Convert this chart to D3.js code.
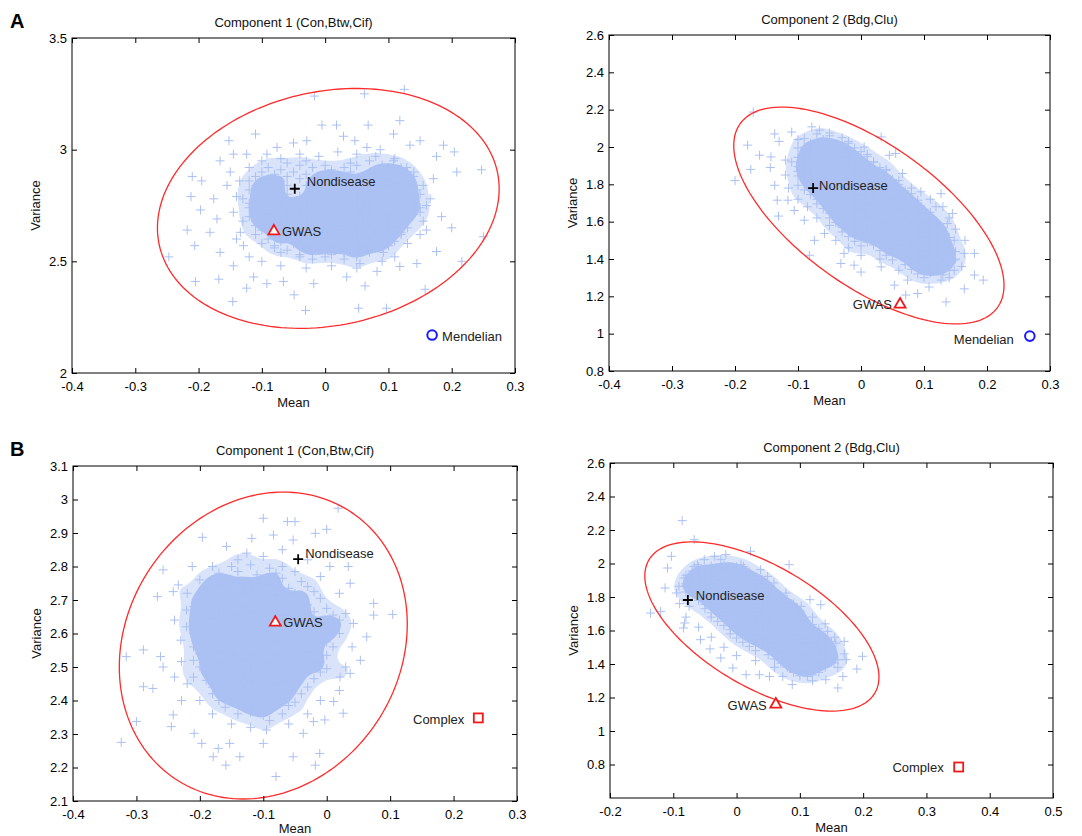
<!DOCTYPE html>
<html>
<head>
<meta charset="utf-8">
<script src="https://cdn.jsdelivr.net/npm/d3@7"></script>
<style>
  body { margin: 0; background: #fff; }
  svg { font-family: "Liberation Sans", Arial, sans-serif; }
</style>
</head>
<body>
<svg id="chart" width="1082" height="836"></svg>
<script>
// axis ticks
const meanTicksA = [-0.4, -0.3, -0.2, -0.1, 0, 0.1, 0.2, 0.3];
const meanTicksB2 = [-0.2, -0.1, 0, 0.1, 0.2, 0.3, 0.4, 0.5];
const varTicksA1 = [2, 2.5, 3, 3.5];
const varTicksA2 = [0.8, 1, 1.2, 1.4, 1.6, 1.8, 2, 2.2, 2.4, 2.6];
const varTicksB1 = [2.1, 2.2, 2.3, 2.4, 2.5, 2.6, 2.7, 2.8, 2.9, 3, 3.1];
const varTicksB2 = [0.8, 1, 1.2, 1.4, 1.6, 1.8, 2, 2.2, 2.4, 2.6];

// named reference points [mean, variance]
const nondiseaseA1 = [-0.048, 2.825], gwasA1 = [-0.081, 2.641], mendelianA1 = [0.169, 2.17];
const nondiseaseA2 = [-0.076, 1.78], gwasA2 = [0.062, 1.164], mendelianA2 = [0.268, 0.987];
const nondiseaseB1 = [-0.045, 2.822], gwasB1 = [-0.081, 2.637], complexB1 = [0.239, 2.348];
const nondiseaseB2 = [-0.077, 1.782], gwasB2 = [0.062, 1.167], complexB2 = [0.351, 0.785];

// 95% ellipses: [centre mean, centre variance, half-width, half-height, tilt]
const ellipseA1 = [0.005, 2.737, 0.27, 0.537, 0.164];
const ellipseA2 = [0.0125, 1.633, 0.2145, 0.581, -0.70];
const ellipseB1 = [-0.1, 2.564, 0.227, 0.458, 0.14];
const ellipseB2 = [0.04, 1.624, 0.185, 0.505, -0.64];

// simulated nondisease genes [mean, variance]
const cloudA1 = [
[.125,3.27],[.062,3.25],[-.017,3.24],[.118,3.13],[.068,3.11],[-.005,3.11],[.047,3.04],[-.152,3.04],[-.11,3.07],[.187,3.02],[.204,2.99],[.247,2.91],[.208,2.9],[-.21,2.88],[-.195,2.86],[-.212,2.79],[-.197,2.73],[-.218,2.64],[-.206,2.57],[-.247,2.52],[-.205,2.41],[-.168,2.42],[-.146,2.32],[-.124,2.38],[-.049,2.35],[-.031,2.28],[.053,2.29],[.097,2.29],[.158,2.375],[.176,2.544],[.2,2.65],[.216,2.5],[.25,2.61],[.184,2.7],[.171,2.87],[.15,3.04],[.134,3.02],[.108,3.07],[.018,3.11],[-.05,3.03],[-.076,3.01],[-.124,2.98],[-.145,2.98],[-.166,2.95],[-.176,2.78],[-.171,2.69],[-.182,2.63],[-.166,2.54],[-.145,2.48],[-.113,2.43],[-.092,2.4],[-.066,2.41],[-.018,2.4],[.034,2.43],[.063,2.39],[.082,2.455],[.118,2.477],[.145,2.49],[.16,2.64],[.15,2.72],[.166,2.78],[.145,2.82],[.129,2.92],[.108,2.95],[.087,3.0],[.066,3.01],[.029,3.06],[-.029,3.04],[-.092,2.98],[-.15,2.9],[-.155,2.84],[-.145,2.72],[-.134,2.63],[-.129,2.57],[.176,2.97],[.092,2.54],[.055,2.49],
[-.135,2.86],[-.14,2.79],[-.13,2.68],[-.14,2.6],[-.12,2.52],[-.1,2.5],[-.07,2.48],[-.03,2.47],[.01,2.48],[.05,2.47],[.09,2.5],[.11,2.52],[.13,2.58],[.15,2.62],[.155,2.68],[.16,2.75],[.155,2.84],[.14,2.9],[.11,2.96],[.08,2.97],[.05,2.98],[.02,2.99],[-.01,2.97],[-.04,2.98],[-.07,2.96],[-.1,2.95],[-.12,2.92],
[-.06,2.94],[-.03,2.95],[0,2.93],[.04,2.94],[.07,2.95],[.09,2.93],
[-.09,2.92],[-.07,2.91],[-.04,2.93],[-.02,2.92],[.01,2.91],[.03,2.92],[.05,2.93],[.08,2.91],[.1,2.92],[.12,2.92],
[-.1,2.9],[-.08,2.89],[-.05,2.9],[-.03,2.89],[0,2.9],[.02,2.89],[.04,2.9],[.07,2.9],[.09,2.89],[.11,2.9],[.13,2.9],
[-.11,2.88],[-.09,2.87],[-.06,2.88],[-.04,2.87],[-.01,2.88],[.01,2.87],[.03,2.88],[.06,2.87],[.08,2.88],[.1,2.87],[.12,2.88],[.14,2.88],
[-.12,2.86],[-.1,2.85],[-.07,2.86],[-.02,2.85],[0,2.86],[.02,2.85],[.05,2.86],[.07,2.85],[.09,2.86],[.11,2.85],[.13,2.86],
[-.11,2.84],[-.08,2.83],[-.06,2.84],[-.03,2.84],[-.01,2.83],[.01,2.84],[.04,2.83],[.06,2.84],[.08,2.83],[.1,2.84],[.12,2.83],[.14,2.84],
[-.12,2.82],[-.1,2.81],[-.07,2.82],[-.02,2.81],[0,2.82],[.03,2.81],[.05,2.82],[.07,2.81],[.09,2.82],[.11,2.81],[.13,2.82],
[-.11,2.8],[-.09,2.79],[-.06,2.8],[-.04,2.79],[-.01,2.8],[.01,2.79],[.03,2.8],[.05,2.79],[.08,2.8],[.1,2.79],[.12,2.8],[.15,2.8],
[-.13,2.78],[-.1,2.77],[-.08,2.78],[-.05,2.77],[-.03,2.78],[0,2.77],[.02,2.78],[.04,2.77],[.06,2.78],[.09,2.77],[.11,2.78],[.13,2.77],
[-.12,2.76],[-.09,2.75],[-.07,2.76],[-.04,2.75],[-.02,2.76],[.01,2.75],[.03,2.76],[.05,2.75],[.07,2.76],[.1,2.75],[.12,2.76],[.14,2.75],
[-.12,2.74],[-.1,2.73],[-.08,2.74],[-.05,2.73],[-.03,2.74],[0,2.73],[.02,2.74],[.04,2.73],[.06,2.74],[.08,2.73],[.1,2.74],[.13,2.73],[.15,2.74],
[-.11,2.72],[-.09,2.71],[-.06,2.72],[-.04,2.71],[-.01,2.72],[.01,2.71],[.03,2.72],[.05,2.71],[.07,2.72],[.1,2.71],[.12,2.72],[.14,2.71],
[-.12,2.7],[-.1,2.69],[-.07,2.7],[-.05,2.69],[-.02,2.7],[0,2.69],[.02,2.7],[.04,2.69],[.06,2.7],[.09,2.69],[.11,2.7],[.13,2.69],
[-.11,2.68],[-.08,2.67],[-.06,2.68],[-.03,2.67],[-.01,2.68],[.01,2.67],[.03,2.68],[.06,2.67],[.08,2.68],[.1,2.67],[.12,2.68],
[-.11,2.66],[-.09,2.65],[-.07,2.66],[-.04,2.65],[-.02,2.66],[0,2.65],[.02,2.66],[.05,2.65],[.07,2.66],[.09,2.65],[.11,2.66],[.13,2.65],
[-.1,2.64],[-.05,2.63],[-.03,2.64],[0,2.63],[.02,2.64],[.04,2.63],[.06,2.64],[.08,2.63],[.1,2.64],[.12,2.63],
[-.11,2.62],[-.08,2.61],[-.06,2.62],[-.03,2.61],[-.01,2.62],[.01,2.61],[.03,2.62],[.05,2.61],[.08,2.62],[.1,2.61],[.12,2.62],
[-.09,2.6],[-.07,2.59],[-.04,2.6],[-.02,2.59],[0,2.6],[.02,2.59],[.05,2.6],[.07,2.59],[.09,2.6],[.11,2.59],
[-.1,2.58],[-.08,2.57],[-.05,2.58],[-.03,2.57],[-.01,2.58],[.01,2.57],[.04,2.58],[.06,2.57],[.08,2.58],[.1,2.57],
[-.08,2.56],[-.06,2.55],[-.03,2.56],[-.01,2.55],[.01,2.56],[.03,2.55],[.05,2.56],[.07,2.55],[.09,2.56],
[-.07,2.54],[-.04,2.53],[-.02,2.54],[.01,2.53],[.03,2.54],[.05,2.53],[.07,2.54],
[-.04,2.52],[-.02,2.51],[0,2.52],[.03,2.51],[.05,2.52]
];

const cloudA2 = [
[-.171,2.187],[-.18,2.01],[-.2,1.82],[-.175,1.88],[-.137,2.07],[-.13,2.03],[-.11,2.08],[-.1,2.04],[-.161,1.956],[-.143,1.947],[-.144,1.89],[-.137,1.795],[-.133,1.715],[-.131,1.63],[-.106,1.66],[-.116,1.715],[-.078,2.108],[-.066,2.09],[-.037,2.0],[.005,2.0],[.032,2.054],[.045,1.956],[.055,1.965],[.066,1.858],[.095,1.76],[.127,1.75],[.119,1.68],[.145,1.644],[.137,1.59],[.148,1.5],[.164,1.43],[.18,1.43],[.18,1.314],[.194,1.287],[.164,1.24],[.135,1.17],[.148,1.34],[.127,1.287],[.108,1.25],[.09,1.215],[.071,1.207],[.053,1.26],[.074,1.287],[.032,1.358],[0,1.33],[-.011,1.367],[-.032,1.376],[-.027,1.43],[-.082,1.42],[-.058,1.537],[-.074,1.5],[-.09,1.608],[.1,1.403],[.113,1.358],[.148,1.394],[.095,1.555],
[-.12,1.93],[-.12,1.85],[-.115,1.78],[-.1,1.72],[-.085,1.68],[-.07,1.62],[-.05,1.58],[-.04,1.5],[-.02,1.46],[0,1.42],[.03,1.4],[.06,1.34],[.1,1.3],[.14,1.3],[.16,1.36],[.165,1.5],[.15,1.56],[.14,1.62],[.13,1.68],[.11,1.72],[.08,1.78],[.06,1.82],[.04,1.88],[.02,1.92],[.01,1.96],[-.02,2.03],[-.05,2.06],[-.09,2.0],
[-.07,2.07],[-.05,2.075],
[-.09,2.045],[-.06,2.04],[-.03,2.05],
[-.08,2.02],[-.06,2.025],[-.04,2.015],[-.02,2.02],
[-.1,1.995],[-.08,1.99],[-.05,2.0],[-.03,1.99],[-.01,1.995],
[-.09,1.97],[-.07,1.975],[-.05,1.965],[-.02,1.97],[0,1.975],
[-.1,1.945],[-.08,1.94],[-.06,1.95],[-.04,1.94],[-.02,1.945],[.01,1.95],
[-.11,1.92],[-.09,1.925],[-.07,1.915],[-.05,1.92],[-.03,1.925],[-.01,1.915],[.02,1.92],
[-.1,1.895],[-.08,1.89],[-.06,1.9],[-.04,1.89],[-.02,1.895],[0,1.9],[.03,1.89],
[-.1,1.87],[-.09,1.875],[-.07,1.865],[-.05,1.87],[-.03,1.875],[-.01,1.865],[.01,1.87],[.04,1.875],
[-.1,1.845],[-.08,1.84],[-.06,1.85],[-.04,1.84],[-.02,1.845],[0,1.85],[.02,1.84],[.04,1.845],
[-.09,1.82],[-.07,1.825],[-.05,1.815],[-.03,1.82],[-.01,1.825],[.01,1.815],[.03,1.82],[.05,1.825],
[-.1,1.795],[-.08,1.79],[-.06,1.8],[-.04,1.79],[-.02,1.795],[0,1.8],[.02,1.79],[.04,1.795],[.06,1.8],
[-.09,1.77],[-.07,1.775],[-.05,1.765],[-.03,1.77],[-.01,1.775],[.01,1.765],[.03,1.77],[.05,1.775],[.07,1.765],
[-.08,1.745],[-.06,1.74],[-.04,1.75],[-.02,1.74],[0,1.745],[.02,1.75],[.04,1.74],[.06,1.745],[.08,1.75],
[-.07,1.72],[-.05,1.725],[-.03,1.715],[-.01,1.72],[.01,1.725],[.03,1.715],[.05,1.72],[.07,1.725],[.09,1.715],
[-.07,1.695],[-.05,1.69],[-.03,1.7],[-.01,1.69],[.01,1.695],[.03,1.7],[.05,1.69],[.07,1.695],[.09,1.7],
[-.06,1.67],[-.04,1.675],[-.02,1.665],[0,1.67],[.02,1.675],[.04,1.665],[.06,1.67],[.08,1.675],[.1,1.665],
[-.05,1.645],[-.03,1.64],[-.01,1.65],[.01,1.64],[.03,1.645],[.05,1.65],[.07,1.64],[.09,1.645],[.11,1.65],
[-.05,1.62],[-.03,1.625],[-.01,1.615],[.01,1.62],[.03,1.625],[.05,1.615],[.07,1.62],[.09,1.625],[.11,1.615],
[-.04,1.595],[-.02,1.59],[0,1.6],[.02,1.59],[.04,1.595],[.06,1.6],[.08,1.59],[.1,1.595],[.12,1.6],
[-.03,1.57],[-.01,1.575],[.01,1.565],[.03,1.57],[.05,1.575],[.07,1.565],[.09,1.57],[.11,1.575],[.13,1.565],
[-.03,1.545],[-.01,1.54],[.01,1.55],[.03,1.54],[.05,1.545],[.07,1.55],[.09,1.54],[.11,1.545],[.13,1.55],
[-.02,1.52],[0,1.525],[.02,1.515],[.04,1.52],[.06,1.525],[.08,1.515],[.1,1.52],[.12,1.525],[.14,1.515],
[-.01,1.495],[.01,1.49],[.03,1.5],[.05,1.49],[.07,1.495],[.09,1.5],[.11,1.49],[.13,1.495],
[0,1.47],[.02,1.475],[.04,1.465],[.06,1.47],[.08,1.475],[.1,1.465],[.12,1.47],[.14,1.475],
[.03,1.445],[.05,1.44],[.07,1.45],[.09,1.44],[.11,1.445],[.13,1.45],[.15,1.44],
[.04,1.42],[.06,1.425],[.08,1.415],[.1,1.42],[.12,1.425],[.14,1.415],
[.05,1.395],[.07,1.39],[.09,1.4],[.11,1.39],[.13,1.395],[.15,1.4],
[.07,1.37],[.09,1.375],[.11,1.365],[.13,1.37],
[.08,1.345],[.1,1.34],[.12,1.35],[.14,1.34],
[.09,1.32],[.11,1.325],[.13,1.315]
];

const cloudB1 = [
[-.324,2.275],[-.3,2.337],[-.316,2.531],[-.289,2.551],[-.289,2.441],[-.274,2.436],[-.267,2.71],[-.258,2.79],[-.242,2.725],[-.234,2.745],[-.262,2.531],[-.258,2.5],[-.245,2.322],[-.242,2.357],[-.212,2.8],[-.196,2.887],[-.197,2.272],[-.179,2.232],[-.159,2.207],[-.137,2.232],[-.153,2.272],[-.126,2.84],[-.1,2.944],[-.062,2.934],[-.05,2.934],[-.158,2.86],[-.118,2.884],[-.084,2.894],[-.053,2.879],[-.018,2.899],[0,2.911],[.018,2.974],[.005,2.8],[.034,2.8],[.037,2.75],[.074,2.69],[.104,2.657],[.074,2.655],[.063,2.59],[.053,2.52],[.021,2.47],[.026,2.362],[-.003,2.342],[-.021,2.337],[-.037,2.302],[-.011,2.242],[-.018,2.207],[-.053,2.232],[-.08,2.173],[-.1,2.272],[-.095,2.312],[-.171,2.257],[-.209,2.302],[-.229,2.4],[-.21,2.47],[.037,2.481],[.011,2.397],[.042,2.63],[.011,2.61],[-.221,2.67],[-.221,2.62],[-.229,2.516],
[-.23,2.58],[-.24,2.64],[-.22,2.72],[-.2,2.76],[-.18,2.8],[-.14,2.82],[-.1,2.83],[-.07,2.85],[-.03,2.82],[-.01,2.77],[.02,2.72],[.03,2.66],[.04,2.56],[.03,2.5],[.02,2.43],[-.01,2.4],[-.03,2.36],[-.06,2.33],[-.09,2.34],[-.12,2.32],[-.15,2.33],[-.18,2.36],[-.2,2.4],[-.22,2.45],[-.24,2.47],
[-.15,2.8],[-.12,2.805],[-.09,2.795],[-.07,2.8],
[-.17,2.78],[-.14,2.785],[-.11,2.775],[-.08,2.78],[-.05,2.785],
[-.18,2.76],[-.16,2.765],[-.13,2.755],[-.1,2.76],[-.07,2.765],[-.04,2.755],
[-.19,2.74],[-.17,2.745],[-.14,2.735],[-.12,2.74],[-.09,2.745],[-.06,2.735],[-.03,2.74],
[-.2,2.72],[-.18,2.725],[-.15,2.715],[-.13,2.72],[-.1,2.725],[-.08,2.715],[-.05,2.72],[-.02,2.725],
[-.2,2.7],[-.17,2.705],[-.14,2.695],[-.12,2.7],[-.09,2.705],[-.07,2.695],[-.04,2.7],[-.01,2.705],
[-.21,2.68],[-.19,2.685],[-.16,2.675],[-.13,2.68],[-.11,2.685],[-.08,2.675],[-.06,2.68],[-.03,2.685],[0,2.675],
[-.2,2.66],[-.17,2.665],[-.15,2.655],[-.12,2.66],[-.1,2.665],[-.07,2.655],[-.05,2.66],[-.02,2.665],[.01,2.655],
[-.21,2.64],[-.18,2.645],[-.16,2.635],[-.13,2.64],[-.11,2.645],[-.09,2.635],[-.06,2.64],[-.04,2.645],[-.01,2.635],[.02,2.64],
[-.2,2.62],[-.17,2.625],[-.15,2.615],[-.12,2.62],[-.1,2.625],[-.07,2.615],[-.05,2.62],[-.02,2.625],[.01,2.615],
[-.21,2.6],[-.19,2.605],[-.16,2.595],[-.14,2.6],[-.11,2.605],[-.09,2.595],[-.06,2.6],[-.04,2.605],[-.01,2.595],[.02,2.6],
[-.2,2.58],[-.18,2.585],[-.15,2.575],[-.13,2.58],[-.1,2.585],[-.08,2.575],[-.05,2.58],[-.03,2.585],[0,2.575],
[-.21,2.56],[-.19,2.565],[-.16,2.555],[-.14,2.56],[-.11,2.565],[-.09,2.555],[-.07,2.56],[-.04,2.565],[-.02,2.555],[.01,2.56],
[-.2,2.54],[-.17,2.545],[-.15,2.535],[-.12,2.54],[-.1,2.545],[-.08,2.535],[-.05,2.54],[-.03,2.545],[0,2.535],
[-.21,2.52],[-.18,2.525],[-.16,2.515],[-.13,2.52],[-.11,2.525],[-.09,2.515],[-.06,2.52],[-.04,2.525],[-.01,2.515],
[-.2,2.5],[-.17,2.505],[-.14,2.495],[-.12,2.5],[-.1,2.505],[-.07,2.495],[-.05,2.5],[-.02,2.505],[0,2.495],
[-.19,2.48],[-.16,2.485],[-.13,2.475],[-.11,2.48],[-.09,2.485],[-.06,2.475],[-.04,2.48],[-.01,2.485],
[-.19,2.46],[-.17,2.465],[-.14,2.455],[-.12,2.46],[-.1,2.465],[-.07,2.455],[-.05,2.46],[-.02,2.465],
[-.18,2.44],[-.15,2.445],[-.13,2.435],[-.11,2.44],[-.08,2.445],[-.06,2.435],[-.03,2.44],
[-.18,2.42],[-.16,2.425],[-.14,2.415],[-.11,2.42],[-.09,2.425],[-.07,2.415],[-.04,2.42],
[-.17,2.4],[-.15,2.405],[-.12,2.395],[-.1,2.4],[-.08,2.405],[-.05,2.395],
[-.16,2.38],[-.13,2.385],[-.11,2.375],[-.09,2.38],[-.06,2.385],
[-.14,2.36],[-.12,2.365],[-.1,2.355],[-.07,2.36]
];

const cloudB2 = [
[-.086,2.256],[-.067,2.142],[.022,2.073],[.083,1.993],[-.017,2.053],[-.103,2.043],[-.109,1.973],[-.113,1.854],[-.095,1.824],[-.136,1.704],[-.12,1.714],[-.082,1.645],[-.084,1.615],[-.057,1.545],[-.042,1.49],[-.025,1.436],[-.006,1.376],[.015,1.336],[.036,1.336],[.052,1.326],[.088,1.277],[.16,1.257],[.168,1.326],[.19,1.37],[.199,1.446],[.173,1.426],[.17,1.535],[.144,1.595],[.133,1.754],[.116,1.784],[.078,1.824],[.059,1.884],[.038,1.963],[.007,1.993],[-.035,2.043],[-.051,2.023],[-.062,1.993],[-.025,2.023],[.049,1.923],[.102,1.744],[.157,1.525],[.154,1.406],[.141,1.306],[.112,1.326],[.073,1.326],[-.075,1.744],[-.091,1.864],[-.083,1.913],[-.067,1.983],[.011,1.983],[-.006,1.973],
[-.09,1.76],[-.08,1.68],[-.06,1.62],[-.04,1.56],[-.02,1.5],[0,1.45],[.03,1.42],[.06,1.38],[.09,1.35],[.12,1.3],[.16,1.38],[.17,1.46],[.155,1.56],[.14,1.64],[.12,1.68],[.1,1.72],[.08,1.77],[.06,1.84],[.04,1.9],[.02,1.95],[-.02,1.99],[-.08,1.87],
[-.06,1.98],[-.04,1.985],[-.02,1.975],[0,1.98],
[-.07,1.955],[-.05,1.96],[-.03,1.95],[-.01,1.955],[.01,1.96],
[-.08,1.93],[-.06,1.935],[-.04,1.925],[-.02,1.93],[0,1.935],[.02,1.925],
[-.07,1.905],[-.05,1.91],[-.03,1.9],[-.01,1.905],[.01,1.91],[.03,1.9],[.04,1.905],
[-.08,1.88],[-.06,1.885],[-.04,1.875],[-.02,1.88],[0,1.885],[.02,1.875],[.04,1.88],
[-.07,1.855],[-.05,1.86],[-.03,1.85],[-.01,1.855],[.01,1.86],[.03,1.85],[.05,1.855],
[-.08,1.83],[-.06,1.835],[-.04,1.825],[-.02,1.83],[0,1.835],[.02,1.825],[.04,1.83],[.06,1.835],
[-.07,1.805],[-.05,1.81],[-.03,1.8],[-.01,1.805],[.01,1.81],[.03,1.8],[.05,1.805],[.07,1.81],
[-.06,1.78],[-.04,1.785],[-.02,1.775],[0,1.78],[.02,1.785],[.04,1.775],[.06,1.78],[.08,1.785],
[-.05,1.755],[-.03,1.76],[-.01,1.75],[.01,1.755],[.03,1.76],[.05,1.75],[.07,1.755],[.09,1.76],
[-.05,1.73],[-.03,1.735],[-.01,1.725],[.01,1.73],[.03,1.735],[.05,1.725],[.07,1.73],[.09,1.735],
[-.04,1.705],[-.02,1.71],[0,1.7],[.02,1.705],[.04,1.71],[.06,1.7],[.08,1.705],[.1,1.71],
[-.04,1.68],[-.02,1.685],[0,1.675],[.02,1.68],[.04,1.685],[.06,1.675],[.08,1.68],[.1,1.685],
[-.03,1.655],[-.01,1.66],[.01,1.65],[.03,1.655],[.05,1.66],[.07,1.65],[.09,1.655],[.11,1.66],
[-.02,1.63],[0,1.635],[.02,1.625],[.04,1.63],[.06,1.635],[.08,1.625],[.1,1.63],[.12,1.635],
[-.01,1.605],[.01,1.61],[.03,1.6],[.05,1.605],[.07,1.61],[.09,1.6],[.11,1.605],[.13,1.61],
[-.01,1.58],[.01,1.585],[.03,1.575],[.05,1.58],[.07,1.585],[.09,1.575],[.11,1.58],[.13,1.585],
[0,1.555],[.02,1.56],[.04,1.55],[.06,1.555],[.08,1.56],[.1,1.55],[.12,1.555],[.14,1.56],
[.01,1.53],[.03,1.535],[.05,1.525],[.07,1.53],[.09,1.535],[.11,1.525],[.13,1.53],[.15,1.535],
[.02,1.505],[.04,1.51],[.06,1.5],[.08,1.505],[.1,1.51],[.12,1.5],[.14,1.505],
[.03,1.48],[.05,1.485],[.07,1.475],[.09,1.48],[.11,1.485],[.13,1.475],[.15,1.48],
[.05,1.455],[.07,1.46],[.09,1.45],[.11,1.455],[.13,1.46],[.15,1.45],
[.06,1.43],[.08,1.435],[.1,1.425],[.12,1.43],[.14,1.435],[.16,1.425],
[.07,1.405],[.09,1.41],[.11,1.4],[.13,1.405],[.15,1.41],
[.08,1.38],[.1,1.385],[.12,1.375],[.14,1.38],
[.09,1.355],[.11,1.36],[.13,1.35],
[.1,1.33],[.12,1.335]
];

const panels = [
  { letter: 'A', title: 'Component 1 (Con,Btw,Cif)', box: [72, 38, 515, 373],
    xDomain: [-0.4, 0.3], yDomain: [2, 3.5], xTicks: meanTicksA, yTicks: varTicksA1,
    cloud: cloudA1, ellipse: ellipseA1,
    marks: [
      { kind: 'plus', at: nondiseaseA1, text: 'Nondisease', dx: 12, dy: -3, anchor: 'start' },
      { kind: 'triangle', at: gwasA1, text: 'GWAS', dx: 8, dy: 6, anchor: 'start' },
      { kind: 'circle', at: mendelianA1, text: 'Mendelian', dx: 10, dy: 6, anchor: 'start' }
    ] },
  { letter: '', title: 'Component 2 (Bdg,Clu)', box: [609, 35, 1050, 371],
    xDomain: [-0.4, 0.3], yDomain: [0.8, 2.6], xTicks: meanTicksA, yTicks: varTicksA2,
    cloud: cloudA2, ellipse: ellipseA2,
    marks: [
      { kind: 'plus', at: nondiseaseA2, text: 'Nondisease', dx: 6, dy: 2, anchor: 'start' },
      { kind: 'triangle', at: gwasA2, text: 'GWAS', dx: -8, dy: 6, anchor: 'end' },
      { kind: 'circle', at: mendelianA2, text: 'Mendelian', dx: -16, dy: 8, anchor: 'end' }
    ] },
  { letter: 'B', title: 'Component 1 (Con,Btw,Cif)', box: [73, 466, 517, 801],
    xDomain: [-0.4, 0.3], yDomain: [2.1, 3.1], xTicks: meanTicksA, yTicks: varTicksB1,
    cloud: cloudB1, ellipse: ellipseB1,
    marks: [
      { kind: 'plus', at: nondiseaseB1, text: 'Nondisease', dx: 7, dy: -1, anchor: 'start' },
      { kind: 'triangle', at: gwasB1, text: 'GWAS', dx: 8, dy: 6, anchor: 'start' },
      { kind: 'square', at: complexB1, text: 'Complex', dx: -14, dy: 6, anchor: 'end' }
    ] },
  { letter: '', title: 'Component 2 (Bdg,Clu)', box: [610, 463, 1053, 798],
    xDomain: [-0.2, 0.5], yDomain: [0.6, 2.6], xTicks: meanTicksB2, yTicks: varTicksB2,
    cloud: cloudB2, ellipse: ellipseB2,
    marks: [
      { kind: 'plus', at: nondiseaseB2, text: 'Nondisease', dx: 8, dy: 0, anchor: 'start' },
      { kind: 'triangle', at: gwasB2, text: 'GWAS', dx: -9, dy: 7, anchor: 'end' },
      { kind: 'square', at: complexB2, text: 'Complex', dx: -15, dy: 5, anchor: 'end' }
    ] }
];

const svg = d3.select('#chart');
const cloudColor = '#abc0f3';
// overplotting wash: density levels (share of peak) and their opacity
const washLevels = [0.45, 0.72];
const washOpacity = [0.45, 1];

panels.forEach(function(p) {
  const [left, top, right, bottom] = p.box;
  const w = right - left, h = bottom - top;
  const x = d3.scaleLinear().domain(p.xDomain).range([0, w]);
  const y = d3.scaleLinear().domain(p.yDomain).range([h, 0]);
  const g = svg.append('g').attr('transform', `translate(${left},${top})`);

  // overplotted core of the cloud, from the density of the points
  const density = d3.contourDensity()
    .x(d => x(d[0])).y(d => y(d[1]))
    .size([w, h]).bandwidth(9).cellSize(2);
  const peak = d3.max(density.thresholds(40)(p.cloud), c => c.value);
  const wash = density.thresholds(washLevels.map(f => f * peak))(p.cloud);
  g.append('g').selectAll('path').data(wash).join('path')
    .attr('d', d3.geoPath()).attr('fill', cloudColor)
    .attr('fill-opacity', (d, i) => washOpacity[i]);

  // gene cloud
  g.append('g').selectAll('path').data(p.cloud).join('path')
    .attr('d', 'M-4.5,0H4.5M0,-4.5V4.5')
    .attr('transform', d => `translate(${x(d[0])},${y(d[1])})`)
    .attr('stroke', cloudColor).attr('stroke-width', 1).attr('fill', 'none');

  // confidence ellipse
  const [cx, cy, rx, ry, phi] = p.ellipse;
  const pts = d3.range(0, 361, 2).map(a => {
    const t = a * Math.PI / 180;
    return [x(cx + rx * Math.cos(t)), y(cy + ry * Math.sin(t + phi))];
  });
  g.append('path').attr('d', d3.line()(pts) + 'Z')
    .attr('fill', 'none').attr('stroke', '#ff2a2a').attr('stroke-width', 1.3);

  // axes, MATLAB-style box with inward ticks
  const fmt = d => String(d);
  g.append('g').attr('transform', `translate(0,${h})`)
    .call(d3.axisBottom(x).tickValues(p.xTicks).tickFormat(fmt).tickSizeInner(-5).tickSizeOuter(0).tickPadding(9));
  g.append('g')
    .call(d3.axisLeft(y).tickValues(p.yTicks).tickFormat(fmt).tickSizeInner(-5).tickSizeOuter(0).tickPadding(5));
  g.append('g')
    .call(d3.axisTop(x).tickValues(p.xTicks).tickFormat('').tickSizeInner(-5).tickSizeOuter(0));
  g.append('g').attr('transform', `translate(${w},0)`)
    .call(d3.axisRight(y).tickValues(p.yTicks).tickFormat('').tickSizeInner(-5).tickSizeOuter(0));
  g.selectAll('.domain').remove();
  g.selectAll('.tick line').attr('stroke', '#000');
  g.selectAll('.tick text').attr('font-size', 13).attr('fill', '#000')
    .attr('font-family', '"Liberation Sans", Arial, sans-serif');
  g.append('rect').attr('width', w).attr('height', h)
    .attr('fill', 'none').attr('stroke', '#000').attr('stroke-width', 1);

  // titles and axis labels
  g.append('text').attr('x', w / 2).attr('y', -11).attr('text-anchor', 'middle')
    .attr('font-size', 13).attr('fill', '#111').text(p.title);
  g.append('text').attr('x', w / 2).attr('y', Math.min(h + 34, 833 - top)).attr('text-anchor', 'middle')
    .attr('font-size', 13).attr('fill', '#111').text('Mean');
  g.append('text').attr('transform', `translate(-32,${h / 2}) rotate(-90)`)
    .attr('text-anchor', 'middle').attr('font-size', 13).attr('fill', '#111').text('Variance');
  if (p.letter) {
    g.append('text').attr('x', 10 - left).attr('y', -10).attr('font-size', 20)
      .attr('font-weight', 'bold').attr('fill', '#000').text(p.letter);
  }

  // highlighted gene sets
  p.marks.forEach(m => {
    const mx = x(m.at[0]), my = y(m.at[1]);
    const mg = g.append('g').attr('transform', `translate(${mx},${my})`);
    if (m.kind === 'plus') {
      mg.append('path').attr('d', 'M-5,0H5M0,-5V5').attr('stroke', '#000').attr('stroke-width', 1.8);
    } else if (m.kind === 'triangle') {
      mg.append('path').attr('d', 'M0,-5L5.5,4.5H-5.5Z').attr('fill', '#fff')
        .attr('stroke', '#f01818').attr('stroke-width', 1.8);
    } else if (m.kind === 'circle') {
      mg.append('circle').attr('r', 4.8).attr('fill', '#fff')
        .attr('stroke', '#1a1aff').attr('stroke-width', 2);
    } else {
      mg.append('rect').attr('x', -4.5).attr('y', -4.5).attr('width', 9).attr('height', 9)
        .attr('fill', '#fff').attr('stroke', '#f01818').attr('stroke-width', 1.8);
    }
    g.append('text').attr('x', mx + m.dx).attr('y', my + m.dy)
      .attr('text-anchor', m.anchor).attr('font-size', 13).attr('fill', '#222').text(m.text);
  });
});
</script>
</body>
</html>
